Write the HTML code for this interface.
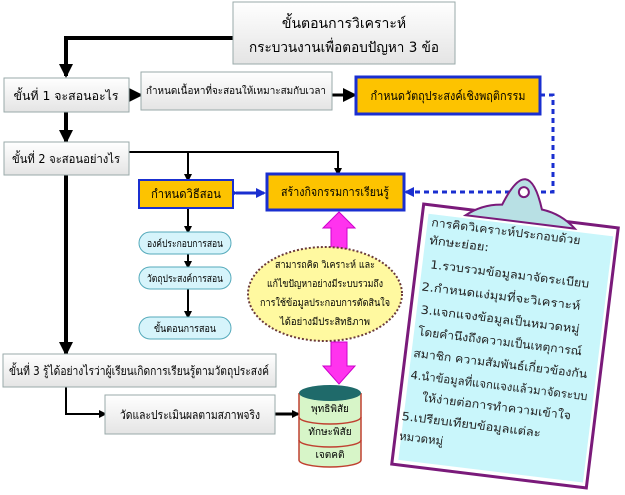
<!DOCTYPE html>
<html><head><meta charset="utf-8"><style>
html,body{margin:0;padding:0;background:#fff}
svg{display:block}
text{font-family:"DejaVu Sans","Liberation Sans",sans-serif}
</style></head><body>
<svg width="625" height="495" viewBox="0 0 625 495" xmlns="http://www.w3.org/2000/svg">
<defs>
<linearGradient id="g" x1="0" y1="0" x2="0" y2="1"><stop offset="0" stop-color="#ffffff"/><stop offset="1" stop-color="#e4e4e4"/></linearGradient>
<marker id="ab" markerWidth="8" markerHeight="8" refX="6" refY="4" orient="auto" markerUnits="userSpaceOnUse"><path d="M0,0 L8,4 L0,8z" fill="#000"/></marker>
<marker id="abig" markerWidth="14" markerHeight="14" refX="12" refY="7" orient="auto" markerUnits="userSpaceOnUse"><path d="M0,0 L14,7 L0,14z" fill="#000"/></marker>
<marker id="bl" markerWidth="10" markerHeight="10" refX="8" refY="5" orient="auto" markerUnits="userSpaceOnUse"><path d="M0,0 L10,5 L0,10z" fill="#1a2fd0"/></marker>
</defs>
<g stroke="#000" fill="none">
<path d="M233,38 H66 V76" stroke-width="4" marker-end="url(#abig)"/>
<path d="M66,112 V142" stroke-width="4" marker-end="url(#abig)"/>
<path d="M66,175 V354" stroke-width="4" marker-end="url(#abig)"/>
<path d="M129,95 H141" stroke-width="3" marker-end="url(#abig)"/>
<path d="M332,95 H355" stroke-width="3" marker-end="url(#abig)"/>
<path d="M129,152 H338 V174" stroke-width="2" marker-end="url(#ab)"/>
<path d="M188,152 V180" stroke-width="2" marker-end="url(#ab)"/>
<path d="M188,208 V232" stroke-width="2" marker-end="url(#ab)"/>
<path d="M188,254 V267" stroke-width="2" marker-end="url(#ab)"/>
<path d="M188,289 V317" stroke-width="2" marker-end="url(#ab)"/>
<path d="M66,387 V414 H105" stroke-width="2" marker-end="url(#ab)"/>
<path d="M275,414 H298" stroke-width="3" marker-end="url(#ab)"/>
</g>
<path d="M540,95 H553 V192 H406" stroke="#1a2fd0" stroke-width="3" stroke-dasharray="5,4" fill="none" marker-end="url(#bl)"/>
<path d="M236,193 H264" stroke="#1a2fd0" stroke-width="3" marker-end="url(#bl)" marker-start="url(#bl)"/>
<rect x="233" y="2" width="222" height="62" fill="url(#g)" stroke="#9aa" stroke-width="1"/>
<text x="344" y="28" font-size="14" text-anchor="middle">ขั้นตอนการวิเคราะห์</text>
<text x="344" y="52" font-size="14" text-anchor="middle" textLength="190" lengthAdjust="spacingAndGlyphs">กระบวนงานเพื่อตอบปัญหา 3 ข้อ</text>
<rect x="4" y="78" width="125" height="34" fill="url(#g)" stroke="#9aa"/>
<text x="66" y="100" font-size="12" text-anchor="middle" textLength="105" lengthAdjust="spacingAndGlyphs">ขั้นที่ 1 จะสอนอะไร</text>
<rect x="141" y="72" width="191" height="38" fill="url(#g)" stroke="#9aa"/>
<text x="236" y="94" font-size="10" text-anchor="middle" textLength="180" lengthAdjust="spacingAndGlyphs">กำหนดเนื้อหาที่จะสอนให้เหมาะสมกับเวลา</text>
<rect x="356" y="77" width="184" height="37" fill="#fdc300" stroke="#1a2fd0" stroke-width="3"/>
<text x="448" y="100" font-size="12" text-anchor="middle" textLength="155" lengthAdjust="spacingAndGlyphs">กำหนดวัตถุประสงค์เชิงพฤติกรรม</text>
<rect x="4" y="142" width="125" height="33" fill="url(#g)" stroke="#9aa"/>
<text x="66" y="163" font-size="12" text-anchor="middle" textLength="108" lengthAdjust="spacingAndGlyphs">ขั้นที่ 2 จะสอนอย่างไร</text>
<rect x="139" y="180" width="94" height="28" fill="#fdc300" stroke="#1a2fd0" stroke-width="2"/>
<text x="186" y="198" font-size="12" text-anchor="middle" textLength="70" lengthAdjust="spacingAndGlyphs">กำหนดวิธีสอน</text>
<rect x="267" y="174" width="137" height="36" fill="#fdc300" stroke="#1a2fd0" stroke-width="3"/>
<text x="335" y="196" font-size="12" text-anchor="middle" textLength="108" lengthAdjust="spacingAndGlyphs">สร้างกิจกรรมการเรียนรู้</text>
<g fill="#d6f4fb" stroke="#5ab">
<rect x="139" y="232" width="92" height="22" rx="11"/>
<rect x="139" y="267" width="92" height="22" rx="11"/>
<rect x="139" y="317" width="92" height="22" rx="11"/>
</g>
<g font-size="10" text-anchor="middle">
<text x="185" y="247" textLength="76" lengthAdjust="spacingAndGlyphs">องค์ประกอบการสอน</text>
<text x="185" y="282" textLength="76" lengthAdjust="spacingAndGlyphs">วัตถุประสงค์การสอน</text>
<text x="185" y="332" textLength="62" lengthAdjust="spacingAndGlyphs">ขั้นตอนการสอน</text>
</g>
<path d="M331,252 V228 H323 L339,212 L355,228 H347 V252z" fill="#ff33ee" stroke="#c0c" stroke-width="1"/>
<path d="M331,342 V366 H323 L339,384 L355,366 H347 V342z" fill="#ff33ee" stroke="#c0c" stroke-width="1"/>
<ellipse cx="325" cy="294" rx="77" ry="47" fill="#fff9a0" stroke="#6b3a3a" stroke-width="2" stroke-dasharray="2,2"/>
<g font-size="10" text-anchor="middle">
<text x="325" y="268" textLength="100" lengthAdjust="spacingAndGlyphs">สามารถคิด วิเคราะห์ และ</text>
<text x="325" y="287" textLength="116" lengthAdjust="spacingAndGlyphs">แก้ไขปัญหาอย่างมีระบบรวมถึง</text>
<text x="325" y="306" textLength="130" lengthAdjust="spacingAndGlyphs">การใช้ข้อมูลประกอบการตัดสินใจ</text>
<text x="325" y="325" textLength="90" lengthAdjust="spacingAndGlyphs">ได้อย่างมีประสิทธิภาพ</text>
</g>
<rect x="3" y="354" width="273" height="33" fill="url(#g)" stroke="#9aa"/>
<text x="139" y="375" font-size="12" text-anchor="middle" textLength="260" lengthAdjust="spacingAndGlyphs">ขั้นที่ 3 รู้ได้อย่างไรว่าผู้เรียนเกิดการเรียนรู้ตามวัตถุประสงค์</text>
<rect x="105" y="395" width="170" height="39" fill="url(#g)" stroke="#9aa"/>
<text x="190" y="419" font-size="12" text-anchor="middle" textLength="140" lengthAdjust="spacingAndGlyphs">วัดและประเมินผลตามสภาพจริง</text>
<path d="M299,393 V460 A31,7 0 0 0 361,460 V393" fill="#d7f5c8" stroke="#c04030" stroke-width="1.5"/>
<path d="M299,417 A31,7 0 0 0 361,417 M299,440 A31,7 0 0 0 361,440" fill="none" stroke="#c04030" stroke-width="1.5"/>
<ellipse cx="330" cy="393" rx="31" ry="8" fill="#1f6a6a"/>
<g font-size="10" text-anchor="middle">
<text x="330" y="412">พุทธิพิสัย</text>
<text x="330" y="435">ทักษะพิสัย</text>
<text x="330" y="458">เจตคติ</text>
</g>
<g transform="translate(505,346) rotate(7)">
<rect x="-98" y="-131" width="196" height="262" fill="#fff" stroke="#7a1a7a" stroke-width="3"/>
<rect x="-92" y="-122" width="186" height="248" fill="#c9f6fb"/>
<path d="M-55,-125 Q-40,-138 -20,-140 Q-10,-168 0,-168 Q10,-168 20,-140 Q40,-138 55,-125 Z" fill="#b8e0e4" stroke="#7a1a7a" stroke-width="2"/>
<circle cx="0" cy="-155" r="5" fill="#fff" stroke="#7a1a7a" stroke-width="2"/>
<g font-size="11.5" fill="#222">
<text x="-88" y="-110" textLength="150" lengthAdjust="spacingAndGlyphs">การคิดวิเคราะห์ประกอบด้วย</text>
<text x="-88" y="-92" textLength="60" lengthAdjust="spacingAndGlyphs">ทักษะย่อย:</text>
<text x="-84" y="-68" textLength="160" lengthAdjust="spacingAndGlyphs">1.รวบรวมข้อมูลมาจัดระเบียบ</text>
<text x="-90" y="-45" textLength="160" lengthAdjust="spacingAndGlyphs">2.กำหนดแง่มุมที่จะวิเคราะห์</text>
<text x="-88" y="-22" textLength="160" lengthAdjust="spacingAndGlyphs">3.แจกแจงข้อมูลเป็นหมวดหมู่</text>
<text x="-88" y="0" textLength="165" lengthAdjust="spacingAndGlyphs">โดยคำนึงถึงความเป็นเหตุการณ์</text>
<text x="-90" y="22" textLength="175" lengthAdjust="spacingAndGlyphs">สมาชิก ความสัมพันธ์เกี่ยวข้องกัน</text>
<text x="-90" y="44" textLength="178" lengthAdjust="spacingAndGlyphs">4.นำข้อมูลที่แจกแจงแล้วมาจัดระบบ</text>
<text x="-76" y="65" textLength="150" lengthAdjust="spacingAndGlyphs">ให้ง่ายต่อการทำความเข้าใจ</text>
<text x="-94" y="86" textLength="140" lengthAdjust="spacingAndGlyphs">5.เปรียบเทียบข้อมูลแต่ละ</text>
<text x="-94" y="106">หมวดหมู่</text>
</g>
</g>
</svg>
</body></html>
